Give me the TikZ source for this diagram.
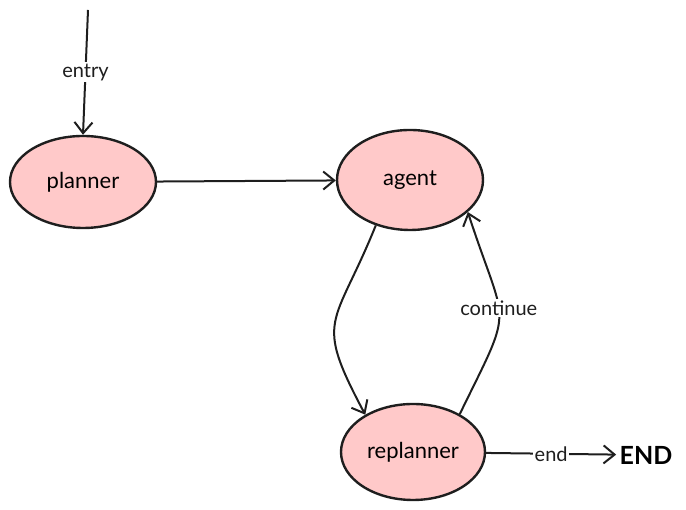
\documentclass[tikz,border=0pt]{standalone}
\usepackage{fontspec}
\setmainfont{Lato}
\usepackage{tikz}
\usetikzlibrary{arrows.meta,shapes.geometric}
\usetikzlibrary{calc}
\definecolor{nodepink}{HTML}{FFC9C9}
\definecolor{inkgray}{HTML}{1E1E1E}
\tikzset{
	state/.style={ellipse, draw=inkgray, line width=2.4pt, fill=nodepink, inner sep=0pt, font=\fontsize{22}{26}\selectfont},
	flow/.style={-{Straight Barb[length=11pt,width=18pt]}, line width=2pt, color=inkgray},
	lbl/.style={fill=white, inner sep=1.5pt, font=\fontsize{20}{24}\selectfont}
}
\begin{document}
\begin{tikzpicture}[x=1pt,y=1pt]
\useasboundingbox (0,0) rectangle (686,510);
\node[state, minimum width=146pt, minimum height=92pt] (planner) at (83,328) {planner};
\node[state, minimum width=146pt, minimum height=100pt] (agent) at (410,330) {agent};
\node[state, minimum width=144pt, minimum height=96pt] (replanner) at (413,58) {replanner};
\node[font=\fontsize{25}{30}\selectfont\bfseries] (end) at (646,55) {END};
\coordinate (start) at (88,500);
\path[flow]
(start) edge node [lbl] {entry} (planner.north)
(planner) edge (agent)
(replanner) edge node [lbl] {end} (end);
\path[flow]
(agent.-127) edge[out=-112, in=118, looseness=1.5] (replanner.142)
(replanner.39) edge[out=64, in=-72, looseness=1.6] node [lbl, pos=0.56] {continue} (agent.-29);
\end{tikzpicture}
\end{document}
